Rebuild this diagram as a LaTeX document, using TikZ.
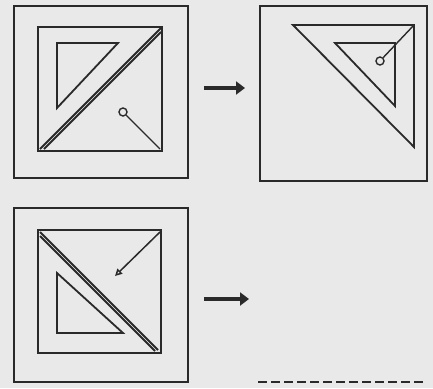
\documentclass[tikz,border=0pt]{standalone}
\usetikzlibrary{arrows.meta}
\definecolor{ink}{HTML}{2A2A2A}
\definecolor{paper}{HTML}{E9E9E9}
\tikzset{
  frame/.style={draw=ink, line width=2pt},
  edge/.style={draw=ink, line width=1.8pt, line join=miter},
  hole/.style={draw=ink, line width=1.4pt, fill=paper},
  bigarrow/.style={draw=ink, line width=3.6pt, -{Triangle[length=9pt,width=13pt]}},
}
\begin{document}
\begin{tikzpicture}[x=1pt,y=-1pt]
\fill[paper] (0,0) rectangle (433,388);
\useasboundingbox (0,0) rectangle (433,388);

% ---- Panel 1 ----
\draw[frame] (14,6) rectangle (188,178);
\draw[frame] (38,27) rectangle (162,151);
\draw[edge] (40,149) -- (161,28);
\draw[edge] (44,149) -- (161,32);
\draw[edge] (57,43) -- (118,43) -- (57,108) -- cycle;
\coordinate (c1) at (160,149);
\node[hole, circle, inner sep=0pt, minimum size=8pt] (h1) at (123,112) {};
\draw[edge, line width=1.4pt] (h1) -- (c1);

% ---- Panel 2 ----
\draw[frame] (260,6) rectangle (427,181);
\draw[edge] (293,25) -- (414,25) -- (414,147) -- cycle;
\draw[edge] (335,43) -- (395,43) -- (395,106) -- cycle;
\coordinate (c2) at (414,25);
\node[hole, circle, inner sep=0pt, minimum size=8pt] (h2) at (380,61) {};
\draw[edge, line width=1.4pt] (h2) -- (c2);

% ---- Panel 3 ----
\draw[frame] (14,208) rectangle (188,382);
\draw[frame] (38,230) rectangle (161,353);
\draw[edge] (40,232) -- (158,350);
\draw[edge] (40,236) -- (155,351);
\draw[edge] (57,273) -- (57,333) -- (123,333) -- cycle;
\coordinate (a3s) at (160,232);
\coordinate (a3e) at (115,276);
\draw[draw=ink, line width=1.5pt, -{Triangle[open,length=7pt,width=7pt]}] (a3s) -- (a3e);

% ---- Arrows between ----
\coordinate (t1) at (204,88);
\coordinate (t2) at (245,88);
\draw[bigarrow] (t1) -- (t2);
\coordinate (b1) at (204,299);
\coordinate (b2) at (249,299);
\draw[bigarrow] (b1) -- (b2);

% ---- dashed rule ----
\coordinate (d1) at (258,382);
\coordinate (d2) at (424,382);
\draw[draw=ink, line width=2.5pt, dash pattern=on 9pt off 4pt] (d1) -- (d2);
\end{tikzpicture}
\end{document}
